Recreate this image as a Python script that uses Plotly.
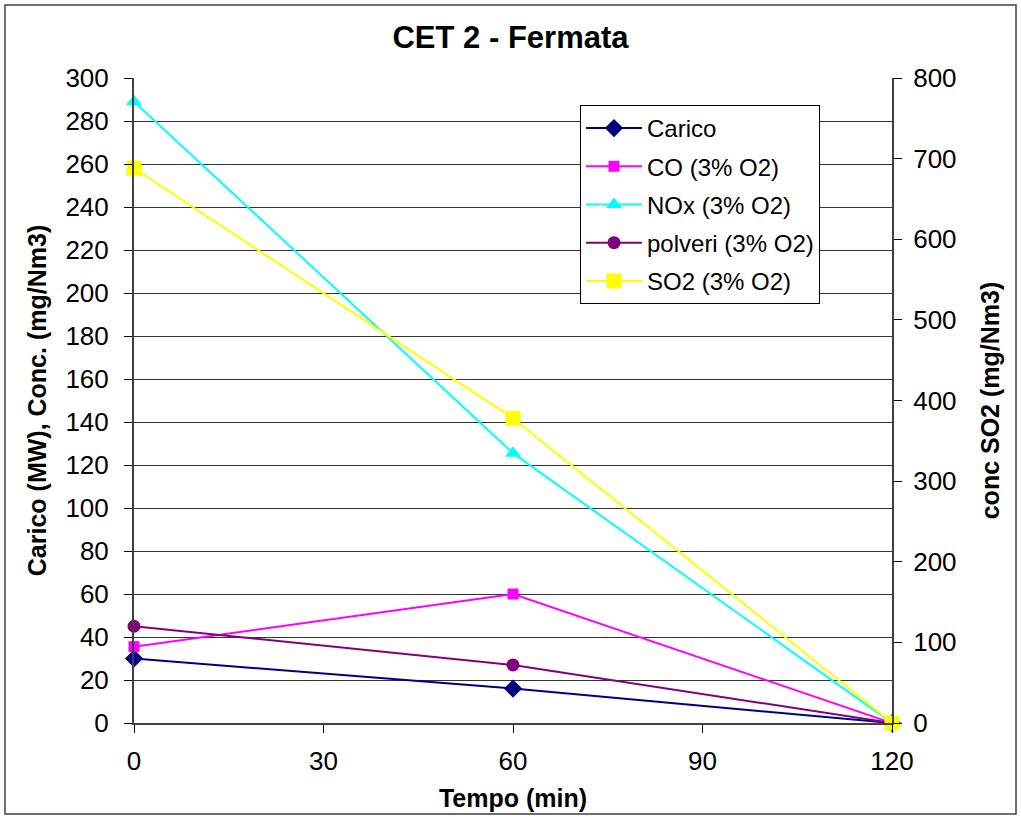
import plotly.graph_objects as go

tempo = [0, 60, 120]
carico = [30, 16, 0]
co = [35.5, 60, 0]
nox = [289, 125.5, 0]
polveri = [45, 27, 0]
so2 = [688, 378, 0]

FONT = "Liberation Sans, Arial, sans-serif"

fig = go.Figure()
fig.add_trace(go.Scatter(x=tempo, y=carico, name="Carico", mode="lines+markers", legendgroup="a",
                         line=dict(color="#000080", width=2),
                         marker=dict(symbol="diamond", size=14, color="#000080"), cliponaxis=False))
fig.add_trace(go.Scatter(x=tempo, y=co, name="CO (3% O2)", mode="lines+markers", legendgroup="b",
                         line=dict(color="#FF00FF", width=2),
                         marker=dict(symbol="square", size=11, color="#FF00FF"), cliponaxis=False))
fig.add_trace(go.Scatter(x=tempo, y=nox, name="NOx (3% O2)", mode="lines+markers", legendgroup="c",
                         line=dict(color="#00FFFF", width=2),
                         marker=dict(symbol="triangle-up", size=14, color="#00FFFF"), cliponaxis=False))
fig.add_trace(go.Scatter(x=tempo, y=polveri, name="polveri (3% O2)", mode="lines+markers", legendgroup="d",
                         line=dict(color="#800080", width=2),
                         marker=dict(symbol="circle", size=13, color="#800080"), cliponaxis=False))
fig.add_trace(go.Scatter(x=tempo, y=so2, name="SO2 (3% O2)", mode="lines+markers", legendgroup="e",
                         line=dict(color="#FFFF00", width=2),
                         marker=dict(symbol="square", size=15, color="#FFFF00"),
                         yaxis="y2", cliponaxis=False))

W, H = 1021, 817
L, R, T, B = 134, 129, 78, 94
pw, ph = W - L - R, H - T - B

def px(x):
    return (x - L) / pw

def py(y):
    return (H - B - y) / ph

fig.update_layout(
    width=W, height=H,
    margin=dict(l=L, r=R, t=T, b=B, autoexpand=False),
    paper_bgcolor="white", plot_bgcolor="white",
    font=dict(family=FONT, size=26, color="black"),
    title=dict(text="<b>CET 2 - Fermata</b>", x=0.5, xanchor="center",
               y=1 - 37 / H, yanchor="middle", font=dict(size=31)),
    xaxis=dict(range=[0, 120], tickvals=[0, 30, 60, 90, 120], ticks="outside",
               ticklen=8, tickcolor="black", showline=True, linecolor="#404040", linewidth=2,
               showgrid=False, zeroline=False, ticklabelstandoff=6, automargin=False,
               title=dict(text="<b>Tempo (min)</b>", standoff=14, font=dict(size=25))),
    yaxis=dict(range=[0, 300], dtick=20, ticks="outside", ticklen=8, tickcolor="black",
               showline=True, linecolor="#404040", linewidth=2, ticklabelstandoff=10,
               showgrid=True, gridcolor="#333333", gridwidth=1, zeroline=False, automargin=False,
               title=dict(text="<b>Carico (MW), Conc. (mg/Nm3)</b>", standoff=12, font=dict(size=25))),
    yaxis2=dict(range=[0, 800], dtick=100, overlaying="y", side="right", ticks="outside",
                ticklen=8, tickcolor="black", showline=True, linecolor="#404040", linewidth=2,
                showgrid=False, zeroline=False, ticklabelstandoff=6, automargin=False,
                title=dict(text="<b>conc SO2 (mg/Nm3)</b>", standoff=26, font=dict(size=25))),
    legend=dict(x=px(580), y=py(105), xanchor="left", yanchor="top",
                bordercolor="black", borderwidth=1, bgcolor="white",
                font=dict(size=24), itemwidth=56, tracegroupgap=4),
    showlegend=True,
    shapes=[dict(type="rect", xref="paper", yref="paper",
                 x0=px(5), x1=px(1016), y0=py(814), y1=py(5),
                 line=dict(color="#404040", width=1.5), layer="below")],
)

fig.write_html("out.html")
